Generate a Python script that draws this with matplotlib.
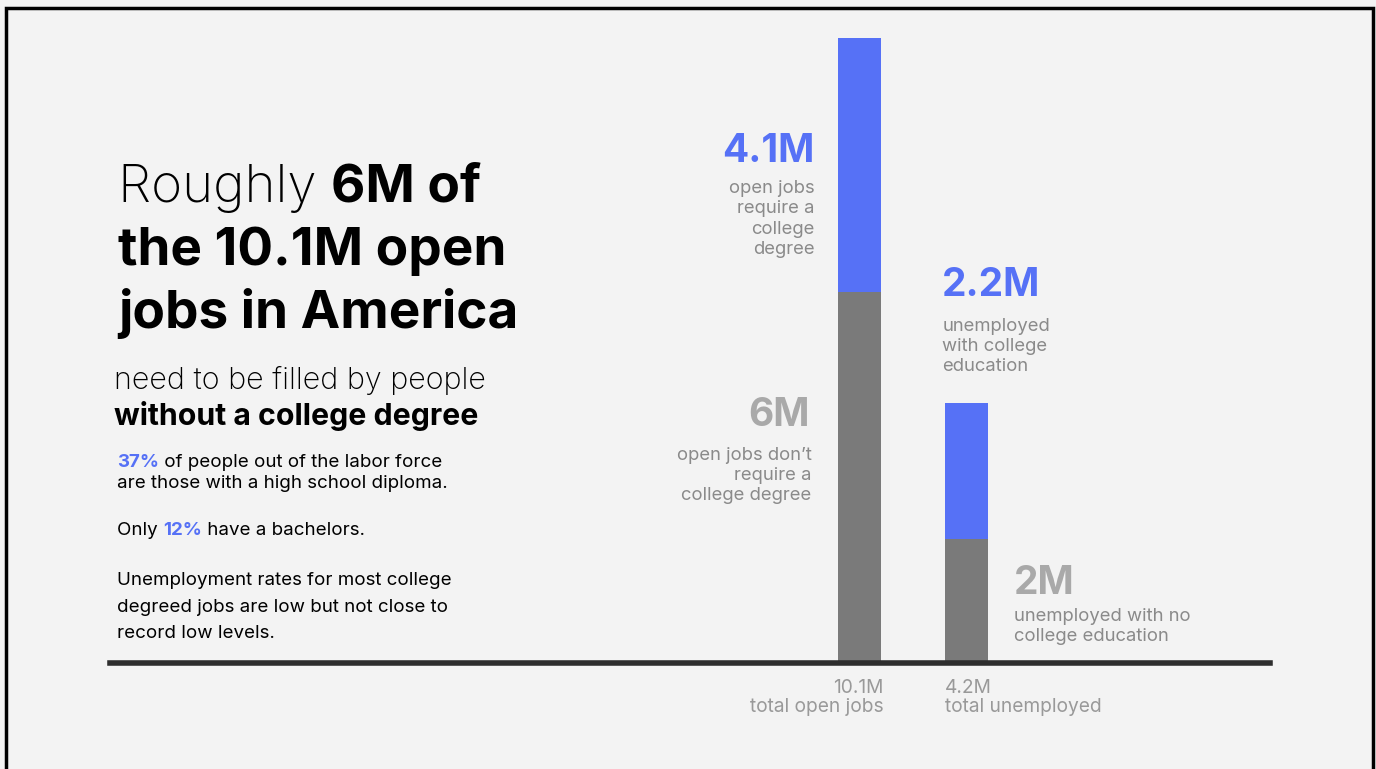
import matplotlib.pyplot as plt
from matplotlib.patches import Rectangle

W, H = 1376, 769

# stacked bars: gray = no college degree, blue = college degree
groups = ["total open jobs", "total unemployed"]
total_labels = ["10.1M", "4.2M"]
no_degree = [6.0, 2.0]
degree = [4.1, 2.2]

BLUE = "#5671f6"
BAR_GRAY = "#7a7a7a"
LABEL_GRAY = "#a9a9a9"
TEXT_GRAY = "#8a8a8a"
BG = "#f3f3f3"

plt.rcParams['font.family'] = ['Inter', 'DejaVu Sans']

fig = plt.figure(figsize=(W / 100, H / 100), dpi=100, facecolor=BG)

# frame
fig.patches.append(Rectangle((6 / W, -0.05), (1373 - 6) / W, 1 - 8 / H + 0.05,
                             transform=fig.transFigure, fill=False,
                             edgecolor="black", linewidth=2.5))

ax = fig.add_axes([110 / W, 1 - 663 / H, 1160 / W, (663 - 38) / H])
ax.set_facecolor(BG)
x = [0, 1]
width = 0.4
ax.bar(x, no_degree, width, color=BAR_GRAY, zorder=2)
ax.bar(x, degree, width, bottom=no_degree, color=BLUE, zorder=2)
ax.set_xlim(-6.972, 3.823)
ax.set_ylim(0, no_degree[0] + degree[0])
for s in ["top", "left", "right"]:
    ax.spines[s].set_visible(False)
ax.spines["bottom"].set_linewidth(4)
ax.spines["bottom"].set_color("#2e2e2e")
ax.spines["bottom"].set_zorder(3)
ax.set_xticks([])
ax.set_yticks([])


def note(s, xy, off, **kw):
    ax.annotate(s, xy=xy, xytext=off, textcoords="offset pixels",
                annotation_clip=False, **kw)


left0 = x[0] - width / 2
left1 = x[1] - width / 2
right0 = x[0] + width / 2
right1 = x[1] + width / 2
top0 = no_degree[0] + degree[0]
top1 = no_degree[1] + degree[1]

big = dict(fontsize=28, fontweight="bold")
small = dict(fontsize=13.3, color=TEXT_GRAY, linespacing=1.25)

# open jobs needing a degree
note("4.1M", (left0, top0), (-23, -114), ha="right", va="center", color=BLUE, **big)
note("open jobs\nrequire a\ncollege\ndegree", (left0, top0), (-23, -142),
     ha="right", va="top", multialignment="right", **small)

# open jobs not needing a degree
note("6M", (left0, 0), (-28, 247), ha="right", va="center", color=LABEL_GRAY, **big)
note("open jobs don\u2019t\nrequire a\ncollege degree", (left0, 0), (-26, 216),
     ha="right", va="top", multialignment="right", **small)

# unemployed with college education
note("2.2M", (left1, top1), (-3, 118), ha="left", va="center", color=BLUE, **big)
note("unemployed\nwith college\neducation", (left1, top1), (-3, 28),
     ha="left", va="bottom", **small)

# unemployed without college education
note("2M", (right1, 0), (26, 80), ha="left", va="center", color=LABEL_GRAY, **big)
note("unemployed with no\ncollege education", (right1, 0), (26, 55),
     ha="left", va="top", **small)

# totals under the baseline
note(total_labels[0] + "\n" + groups[0], (right0, 0), (3, -16), ha="right", va="top",
     multialignment="right", fontsize=13.8, color="#999999", linespacing=1.05)
note(total_labels[1] + "\n" + groups[1], (left1, 0), (0, -16), ha="left", va="top",
     fontsize=13.8, color="#999999", linespacing=1.05)

# headline block on the left
renderer = fig.canvas.get_renderer()


def line(runs, x0, y0, size):
    xp = x0
    for s, weight, color in runs:
        t = fig.text(xp / W, 1 - y0 / H, s, fontsize=size, fontweight=weight,
                     color=color, ha="left", va="baseline")
        xp += t.get_window_extent(renderer).width


line([("Roughly ", "light", "black"), ("6M of", "bold", "black")], 118, 202, 38.2)
line([("the 10.1M open", "bold", "black")], 118, 265, 38.2)
line([("jobs in America", "bold", "black")], 118, 328, 38.2)
line([("need to be filled by people", "light", "black")], 114, 389, 22)
line([("without a college degree", "bold", "black")], 114, 425, 21.8)

body = 13.5
line([("37%", "bold", BLUE), (" of people out of the labor force", "normal", "black")], 117, 467, body)
line([("are those with a high school diploma.", "normal", "black")], 117, 488, body)
line([("Only ", "normal", "black"), ("12%", "bold", BLUE), (" have a bachelors.", "normal", "black")], 117, 535, body)
line([("Unemployment rates for most college", "normal", "black")], 117, 585, body)
line([("degreed jobs are low but not close to", "normal", "black")], 117, 612, body)
line([("record low levels.", "normal", "black")], 117, 638, body)

fig.savefig("out.png", dpi=100, facecolor=BG)
